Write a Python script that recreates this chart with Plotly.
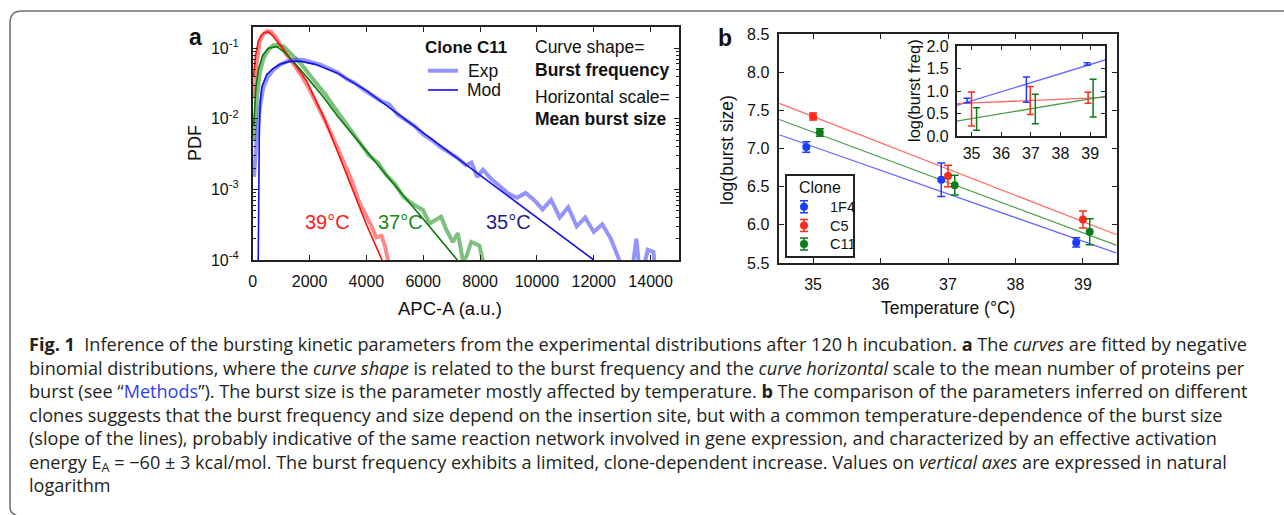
import plotly.graph_objects as go

W, H = 1284, 515
def px(x): return x / W
def py(y): return 1 - y / H

# ---------------- Panel a data (APC-A vs PDF) ----------------
red_mod_x = [30, 100, 200, 300, 400, 550, 700, 850, 1000, 1200, 1500, 1900, 2500, 3000, 3500, 4000, 4550]
red_mod_y = [4.0e-2, 7.9e-2, 1.26e-1, 1.51e-1, 1.66e-1, 1.70e-1, 1.51e-1, 1.26e-1, 1.05e-1, 8.3e-2, 5.8e-2, 3.4e-2, 1.05e-2, 3.3e-3, 1.0e-3, 3.2e-4, 1.0e-4]
red_exp_x = [47, 140, 250, 375, 500, 650, 800, 950, 1150, 1400, 1700, 2000, 2300, 2600, 2900, 3200, 3500, 3750, 3950, 4150, 4350, 4530, 4650, 4760, 4850]
red_exp_y = [2.0e-2, 6.3e-2, 1.26e-1, 1.58e-1, 1.74e-1, 1.70e-1, 1.45e-1, 1.12e-1, 8.5e-2, 6.3e-2, 4.2e-2, 2.6e-2, 1.5e-2, 8.5e-3, 4.6e-3, 2.5e-3, 1.3e-3, 6.5e-4, 4.6e-4, 3.2e-4, 2.1e-4, 2.2e-4, 1.6e-4, 1.0e-4, 5e-5]

green_mod_x = [40, 100, 200, 350, 550, 840, 1100, 1500, 2000, 2500, 3000, 3500, 4000, 4500, 5000, 5500, 6000, 6500, 7200]
green_mod_y = [7.9e-3, 2.5e-2, 5.0e-2, 7.9e-2, 1.0e-1, 1.05e-1, 8.9e-2, 6.0e-2, 3.5e-2, 2.0e-2, 1.07e-2, 6.2e-3, 3.5e-3, 2.0e-3, 1.17e-3, 6.6e-4, 3.8e-4, 2.2e-4, 1.0e-4]
green_exp_x = [47, 140, 250, 375, 550, 725, 900, 1100, 1400, 1700, 2000, 2300, 2600, 2900, 3200, 3500, 3800, 4100, 4400, 4700, 5000, 5300, 5600, 5990, 6220, 6630, 6810, 7040, 7220, 7390, 7510, 7690, 7980, 8090, 8150]
green_exp_y = [5.0e-3, 1.8e-2, 4.5e-2, 7.1e-2, 9.5e-2, 1.10e-1, 1.12e-1, 1.05e-1, 7.9e-2, 6.0e-2, 4.2e-2, 3.0e-2, 2.1e-2, 1.4e-2, 9.5e-3, 6.3e-3, 4.4e-3, 3.0e-3, 2.4e-3, 1.6e-3, 1.2e-3, 7.9e-4, 6.3e-4, 5.1e-4, 3.3e-4, 4.1e-4, 2.7e-4, 1.8e-4, 2.4e-4, 1.0e-4, 1.1e-4, 1.8e-4, 1.6e-4, 1.0e-4, 5e-5]

blue_mod_x = [195, 210, 230, 260, 320, 490, 700, 960, 1300, 1700, 2200, 3000, 4000, 5000, 6000, 7000, 8000, 9000, 10000, 11000, 12000]
blue_mod_y = [1.0e-4, 1.0e-3, 5.0e-3, 1.66e-2, 2.8e-2, 4.2e-2, 5.1e-2, 5.9e-2, 6.5e-2, 6.5e-2, 5.9e-2, 4.4e-2, 2.5e-2, 1.26e-2, 6.3e-3, 3.2e-3, 1.6e-3, 7.9e-4, 4.0e-4, 2.0e-4, 1.0e-4]
blue_exp_x = [47, 140, 250, 375, 550, 725, 950, 1200, 1500, 1800, 2100, 2400, 2700, 3000, 3300, 3600, 3900, 4200, 4500, 4800, 5100, 5400, 5700, 6000, 6300, 6600, 6900, 7200, 7500, 7700, 7900, 8100, 8400, 8700, 9000, 9300, 9600, 9900, 10200, 10500, 10800, 11100, 11400, 11700, 12000, 12300, 12600, 12900, 13100, 13300, 13500, 13650, 13900, 14100, 14200]
blue_exp_y = [1.5e-3, 5.6e-3, 1.4e-2, 2.8e-2, 4.0e-2, 4.9e-2, 5.8e-2, 6.5e-2, 6.9e-2, 6.8e-2, 6.3e-2, 5.8e-2, 5.1e-2, 4.5e-2, 3.7e-2, 3.2e-2, 2.6e-2, 2.2e-2, 1.8e-2, 1.6e-2, 1.15e-2, 9.5e-3, 7.9e-3, 6.0e-3, 5.0e-3, 4.0e-3, 3.3e-3, 2.8e-3, 2.2e-3, 2.4e-3, 1.5e-3, 1.9e-3, 1.4e-3, 1.1e-3, 8.7e-4, 7.6e-4, 8.9e-4, 7.1e-4, 5.2e-4, 7.1e-4, 4.0e-4, 5.6e-4, 3.0e-4, 4.0e-4, 2.5e-4, 3.2e-4, 2.0e-4, 1.0e-4, 5e-5, 5e-5, 2.0e-4, 5e-5, 1.4e-4, 1.3e-4, 5e-5]

pdf_tickvals = [1e-4, 1e-3, 1e-2, 1e-1]
pdf_ticktext = ["10<sup>-4</sup>", "10<sup>-3</sup>", "10<sup>-2</sup>", "10<sup>-1</sup>"]

# ---------------- Panel b data ----------------
clones = ["1F4", "C5", "C11"]
clone_colors = ["#1a3cff", "#ff2a1a", "#0a7d1a"]
line_colors = ["#6a6aff", "#ff6a6a", "#4aa04a"]
temp = {"1F4": [34.9, 36.9, 38.9], "C5": [35.0, 37.0, 39.0], "C11": [35.1, 37.1, 39.1]}
size_val = {"1F4": [7.02, 6.59, 5.77], "C5": [7.42, 6.64, 6.07], "C11": [7.21, 6.52, 5.91]}
size_err = {"1F4": [0.07, 0.22, 0.06], "C5": [0.045, 0.14, 0.11], "C11": [0.05, 0.13, 0.17]}
fit_T = [34.5, 39.5]
size_fit = {"1F4": [7.18, 5.63], "C5": [7.59, 5.87], "C11": [7.38, 5.73]}

inset_T = {"1F4": [34.85, 36.85, 38.9], "C5": [35.0, 36.98, 38.93], "C11": [35.17, 37.15, 39.1]}
freq_val = {"1F4": [0.79, 1.03, 1.60], "C5": [0.60, 0.79, 0.85], "C11": [0.38, 0.60, 0.84]}
freq_err = {"1F4": [0.05, 0.28, 0.03], "C5": [0.38, 0.31, 0.12], "C11": [0.25, 0.33, 0.42]}
freq_fit = {"1F4": [0.68, 1.69], "C5": [0.72, 0.86], "C11": [0.33, 0.88]}

caption_lines = [
    "<b>Fig. 1</b>\u00a0\u00a0Inference of the bursting kinetic parameters from the experimental distributions after 120 h incubation. <b>a</b> The <i>curves</i> are fitted by negative",
    "binomial distributions, where the <i>curve shape</i> is related to the burst frequency and the <i>curve horizontal</i> scale to the mean number of proteins per",
    "burst (see \u201c<span style='color:#2f3fe8'>Methods</span>\u201d). The burst size is the parameter mostly affected by temperature. <b>b</b> The comparison of the parameters inferred on different",
    "clones suggests that the burst frequency and size depend on the insertion site, but with a common temperature-dependence of the burst size",
    "(slope of the lines), probably indicative of the same reaction network involved in gene expression, and characterized by an effective activation",
    "energy E<sub>A</sub> = \u221260 \u00b1 3 kcal/mol. The burst frequency exhibits a limited, clone-dependent increase. Values on <i>vertical axes</i> are expressed in natural",
    "logarithm",
]

FONT = "Liberation Sans, Arial, sans-serif"
CAP_FONT = "Open Sans"
AX = "#222222"

fig = go.Figure()

# panel a curves
for xs, ys, col in [(red_exp_x, red_exp_y, "rgba(255,40,40,0.55)"),
                    (green_exp_x, green_exp_y, "rgba(20,140,20,0.55)"),
                    (blue_exp_x, blue_exp_y, "rgba(60,60,255,0.55)")]:
    fig.add_trace(go.Scatter(x=xs, y=ys, mode="lines", line=dict(color=col, width=4),
                             xaxis="x", yaxis="y", showlegend=False))
for xs, ys, col in [(red_mod_x, red_mod_y, "#ff1010"),
                    (green_mod_x, green_mod_y, "#0a7a0a"),
                    (blue_mod_x, blue_mod_y, "#1010ee")]:
    fig.add_trace(go.Scatter(x=xs, y=ys, mode="lines", line=dict(color=col, width=1.6),
                             xaxis="x", yaxis="y", showlegend=False))

# panel b
for c, lc in zip(clones, line_colors):
    fig.add_trace(go.Scatter(x=fit_T, y=size_fit[c], mode="lines", line=dict(color=lc, width=1.3),
                             xaxis="x2", yaxis="y2", showlegend=False))
for c, cc in zip(clones, clone_colors):
    fig.add_trace(go.Scatter(x=temp[c], y=size_val[c], mode="markers",
                             marker=dict(color=cc, size=8),
                             error_y=dict(type="data", array=size_err[c], color=cc, thickness=1.5, width=4),
                             xaxis="x2", yaxis="y2", showlegend=False))
# inset
for c, lc in zip(clones, line_colors):
    fig.add_trace(go.Scatter(x=fit_T, y=freq_fit[c], mode="lines", line=dict(color=lc, width=1.3),
                             xaxis="x3", yaxis="y3", showlegend=False))
for c, cc in zip(clones, clone_colors):
    fig.add_trace(go.Scatter(x=inset_T[c], y=freq_val[c], mode="markers",
                             marker=dict(color=cc, size=1, opacity=0),
                             error_y=dict(type="data", array=freq_err[c], color=cc, thickness=1.5, width=3.5),
                             xaxis="x3", yaxis="y3", showlegend=False))

# legend glyphs for panel b (pixel-space helper axis)
LEG_X0, LEG_Y0, LEG_X1, LEG_Y1 = 786, 175, 854, 257
leg_rows = [206.7, 225.5, 244.0]
for i, (c, cc) in enumerate(zip(clones, clone_colors)):
    fig.add_trace(go.Scatter(x=[LEG_X0 + 18], y=[leg_rows[i]], mode="markers",
                             marker=dict(color=cc, size=8),
                             error_y=dict(type="data", array=[6], color=cc, thickness=1.5, width=4),
                             xaxis="x4", yaxis="y4", showlegend=False, cliponaxis=False))

def axis_common(**kw):
    d = dict(showline=True, linecolor=AX, linewidth=1.6, mirror="ticks", ticks="inside",
             ticklen=5, tickwidth=1.2, tickcolor=AX, showgrid=False, zeroline=False,
             tickfont=dict(family=FONT, size=16, color="#111"), automargin=False)
    d.update(kw)
    return d

fig.update_layout(
    width=W, height=H, margin=dict(l=0, r=0, t=0, b=0, pad=0), autosize=False,
    paper_bgcolor="white", plot_bgcolor="rgba(0,0,0,0)", showlegend=False,
    xaxis=axis_common(domain=[px(252.7), px(679)], range=[0, 15000], dtick=2000, tick0=0,
                      tickformat="d", anchor="y", ticklabelstandoff=6),
    yaxis=axis_common(domain=[py(260), py(27)], type="log", range=[-4, -0.7],
                      tickvals=pdf_tickvals, ticktext=pdf_ticktext, anchor="x", ticklabelstandoff=9,
                      minor=dict(ticks="inside", ticklen=3, tickcolor=AX, dtick="D1")),
    xaxis2=axis_common(domain=[px(779.3), px(1116.7)], range=[34.5, 39.5], dtick=1, anchor="y2",
                       ticklabelstandoff=6),
    yaxis2=axis_common(domain=[py(263), py(34)], range=[5.5, 8.5], dtick=0.5, tickformat=".1f",
                       anchor="x2", ticklabelstandoff=5),
    xaxis3=axis_common(domain=[px(956.7), px(1105)], range=[34.5, 39.5], dtick=1, anchor="y3",
                       ticklabelstandoff=2, ticklen=4),
    yaxis3=axis_common(domain=[py(136), py(46)], range=[0, 2.0], dtick=0.5, tickformat=".1f",
                       anchor="x3", ticklabelstandoff=3, ticklen=4),
    xaxis4=dict(domain=[0, 1], range=[0, W], visible=False, anchor="y4", fixedrange=True),
    yaxis4=dict(domain=[0, 1], range=[H, 0], visible=False, anchor="x4", fixedrange=True),
)

shapes = []
# outer rounded frame
R = 12
x0, y0, y1 = 10, 11, 513
frame_path = (f"M {px(W+5)},{py(y0)} L {px(x0+R)},{py(y0)} Q {px(x0)},{py(y0)} {px(x0)},{py(y0+R)} "
              f"L {px(x0)},{py(y1-6)} Q {px(x0)},{py(y1)} {px(x0+6)},{py(y1+2)}")
shapes.append(dict(type="path", path=frame_path, xref="paper", yref="paper",
                   line=dict(color="#6e6e6e", width=1.5)))
# panel a legend samples
shapes.append(dict(type="line", xref="paper", yref="paper", x0=px(428), x1=px(458), y0=py(70.7), y1=py(70.7),
                   line=dict(color="rgba(60,60,255,0.55)", width=4)))
shapes.append(dict(type="line", xref="paper", yref="paper", x0=px(428), x1=px(458), y0=py(90), y1=py(90),
                   line=dict(color="#1010ee", width=1.6)))
# panel b legend box
shapes.append(dict(type="rect", xref="paper", yref="paper", x0=px(LEG_X0), x1=px(LEG_X1),
                   y0=py(LEG_Y1), y1=py(LEG_Y0), line=dict(color=AX, width=2), fillcolor="rgba(0,0,0,0)"))
fig.update_layout(shapes=shapes)

ann = []
def A(text, x, y, size, color="#111", xanchor="center", angle=0, family=FONT, yanchor="middle", align="center"):
    ann.append(dict(text=text, x=px(x), y=py(y), xref="paper", yref="paper", showarrow=False,
                    xanchor=xanchor, yanchor=yanchor, textangle=angle, align=align,
                    font=dict(family=family, size=size, color=color)))

A("<b>a</b>", 195, 37, 23)
A("<b>b</b>", 725, 38, 23)
A("PDF", 195, 143, 18, angle=-90)
A("APC-A (a.u.)", 450, 308, 18.5)
A("log(burst size)", 727, 150, 17.5, angle=-90)
A("Temperature (\u00b0C)", 948, 308, 17.5)
A("log(burst freq)", 914, 91, 16.5, angle=-90)
A("<b>Clone C11</b>", 466, 47, 17)
A("Exp", 466, 71, 17.5, xanchor="left")
A("Mod", 465, 90, 17.5, xanchor="left")
A("Curve shape=", 533, 47, 17.5, xanchor="left")
A("<b>Burst frequency</b>", 533, 69.5, 17.5, xanchor="left")
A("Horizontal scale=", 533, 96.5, 17.5, xanchor="left")
A("<b>Mean burst size</b>", 533, 119, 17.5, xanchor="left")
A("39\u00b0C", 327, 222, 20, color="#ff1a1a")
A("37\u00b0C", 400, 222, 20, color="#168a16")
A("35\u00b0C", 508, 222, 20, color="#1c1c8c")
A("Clone", 820.5, 187, 16)
for i, c in enumerate(clones):
    A(c, LEG_X0 + 42, leg_rows[i], 14.5, xanchor="left")

# caption as a single multi-line text block
A("<br>".join(caption_lines), 27, 330, 18.1, color="#231f20", xanchor="left", yanchor="top",
  family=CAP_FONT, align="left")

fig.update_layout(annotations=ann)
fig.write_html("out.html")
